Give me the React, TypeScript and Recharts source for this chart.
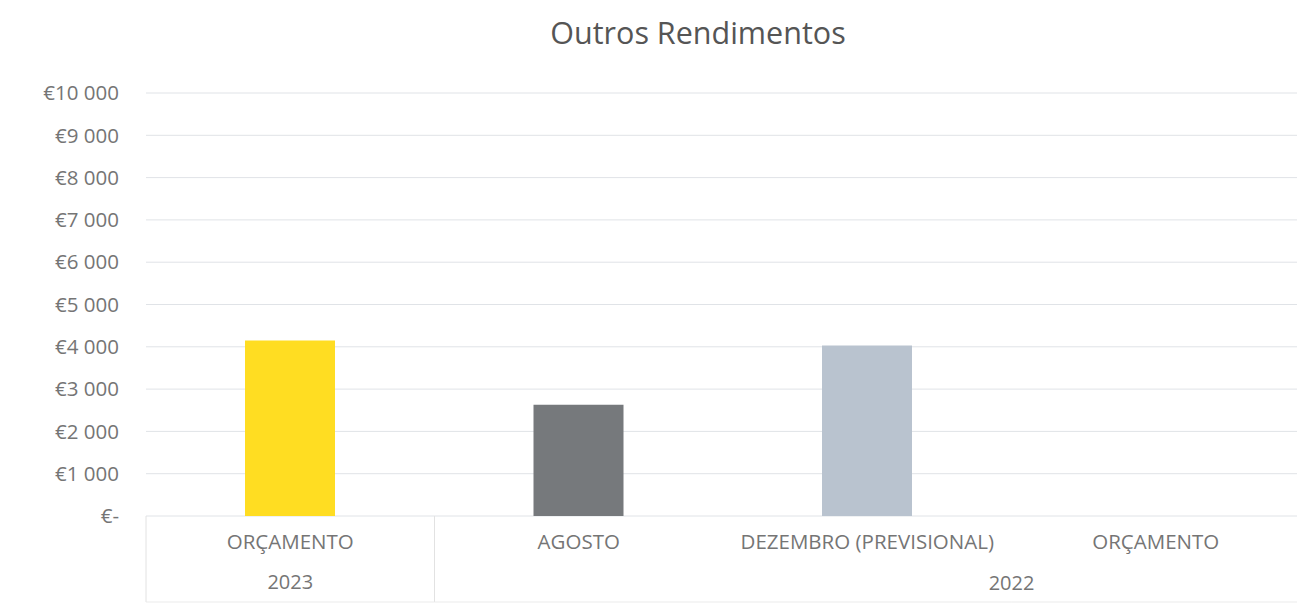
import React from 'react';
import { BarChart, Bar, XAxis, YAxis, CartesianGrid, Cell } from 'recharts';

const title = 'Outros Rendimentos';
const categories = ['ORÇAMENTO', 'AGOSTO', 'DEZEMBRO (PREVISIONAL)', 'ORÇAMENTO'];
const groups = ['2023', '2022', '2022', '2022'];
const values: (number | null)[] = [4150, 2630, 4030, null];
const barColors = ['#FFDD22', '#76797C', '#B9C3CF', '#B9C3CF'];
const yTicks = [0, 1000, 2000, 3000, 4000, 5000, 6000, 7000, 8000, 9000, 10000];

const data = categories.map((c, i) => ({ cat: c, group: groups[i], value: values[i] }));

const FONT = "'Open Sans', 'Noto Sans', sans-serif";
const TEXT = '#757575';

const fmt = (v: number) =>
  v === 0 ? '€-' : '€' + String(v).replace(/\B(?=(\d{3})+(?!\d))/g, ' ');

const XTick = (props: any) => {
  const { x, y, payload, index } = props;
  const i = payload?.index ?? index ?? 0;
  const off = payload?.offset ?? 144;
  const label = categories[i];
  let groupLabel: React.ReactNode = null;
  if (i === 0) {
    groupLabel = (
      <text x={x} y={y + 66} dy="0.355em" textAnchor="middle" fill={TEXT} fontSize={20} fontFamily={FONT}>
        {groups[0]}
      </text>
    );
  } else if (i === 2) {
    groupLabel = (
      <text x={x + off} y={y + 67} dy="0.355em" textAnchor="middle" fill={TEXT} fontSize={20} fontFamily={FONT}>
        {groups[2]}
      </text>
    );
  }
  return (
    <g>
      <text x={x} y={y + 26} dy="0.355em" textAnchor="middle" fill={TEXT} fontSize={20.5} fontFamily={FONT}>
        {label}
      </text>
      {groupLabel}
      {i === 0 && (
        <>
          <line x1={x - off} x2={x - off} y1={y} y2={y + 86} stroke="#e2e2e2" />
          <line x1={x + off} x2={x + off} y1={y} y2={y + 86} stroke="#e2e2e2" />
        </>
      )}
      <line x1={x - off} x2={x + off} y1={y + 86} y2={y + 86} stroke="#ebebeb" />
    </g>
  );
};

export default function App() {
  return (
    <div style={{ position: 'absolute', left: 0, top: 0, width: 1297, height: 608, overflow: 'hidden', background: '#ffffff' }}>
      <svg width={1297} height={70} style={{ position: 'absolute', left: 0, top: 0 }}>
        <text x={698} y={44} textAnchor="middle" fontSize={30.5} fontFamily={FONT} fill="#555555">
          {title}
        </text>
      </svg>
      <div style={{ position: 'absolute', left: 0, top: 0 }}>
        <BarChart width={1310} height={608} data={data} margin={{ top: 93, right: 10, left: 0, bottom: 0 }}>
          <CartesianGrid vertical={false} stroke="#e0e3e7" />
          <XAxis
            dataKey="cat"
            height={92}
            axisLine={false}
            tickLine={false}
            tickSize={0}
            tickMargin={0}
            interval={0}
            tick={<XTick />}
          />
          <YAxis
            width={146}
            domain={[0, 10000]}
            ticks={yTicks}
            interval={0}
            axisLine={false}
            tickLine={false}
            tickSize={0}
            tickMargin={27}
            tickFormatter={fmt}
            tick={{ fill: TEXT, fontSize: 20.5, fontFamily: FONT }}
          />
          <Bar dataKey="value" barSize={90} isAnimationActive={false}>
            {data.map((d, i) => (
              <Cell key={i} fill={barColors[i]} />
            ))}
          </Bar>
        </BarChart>
      </div>
    </div>
  );
}
